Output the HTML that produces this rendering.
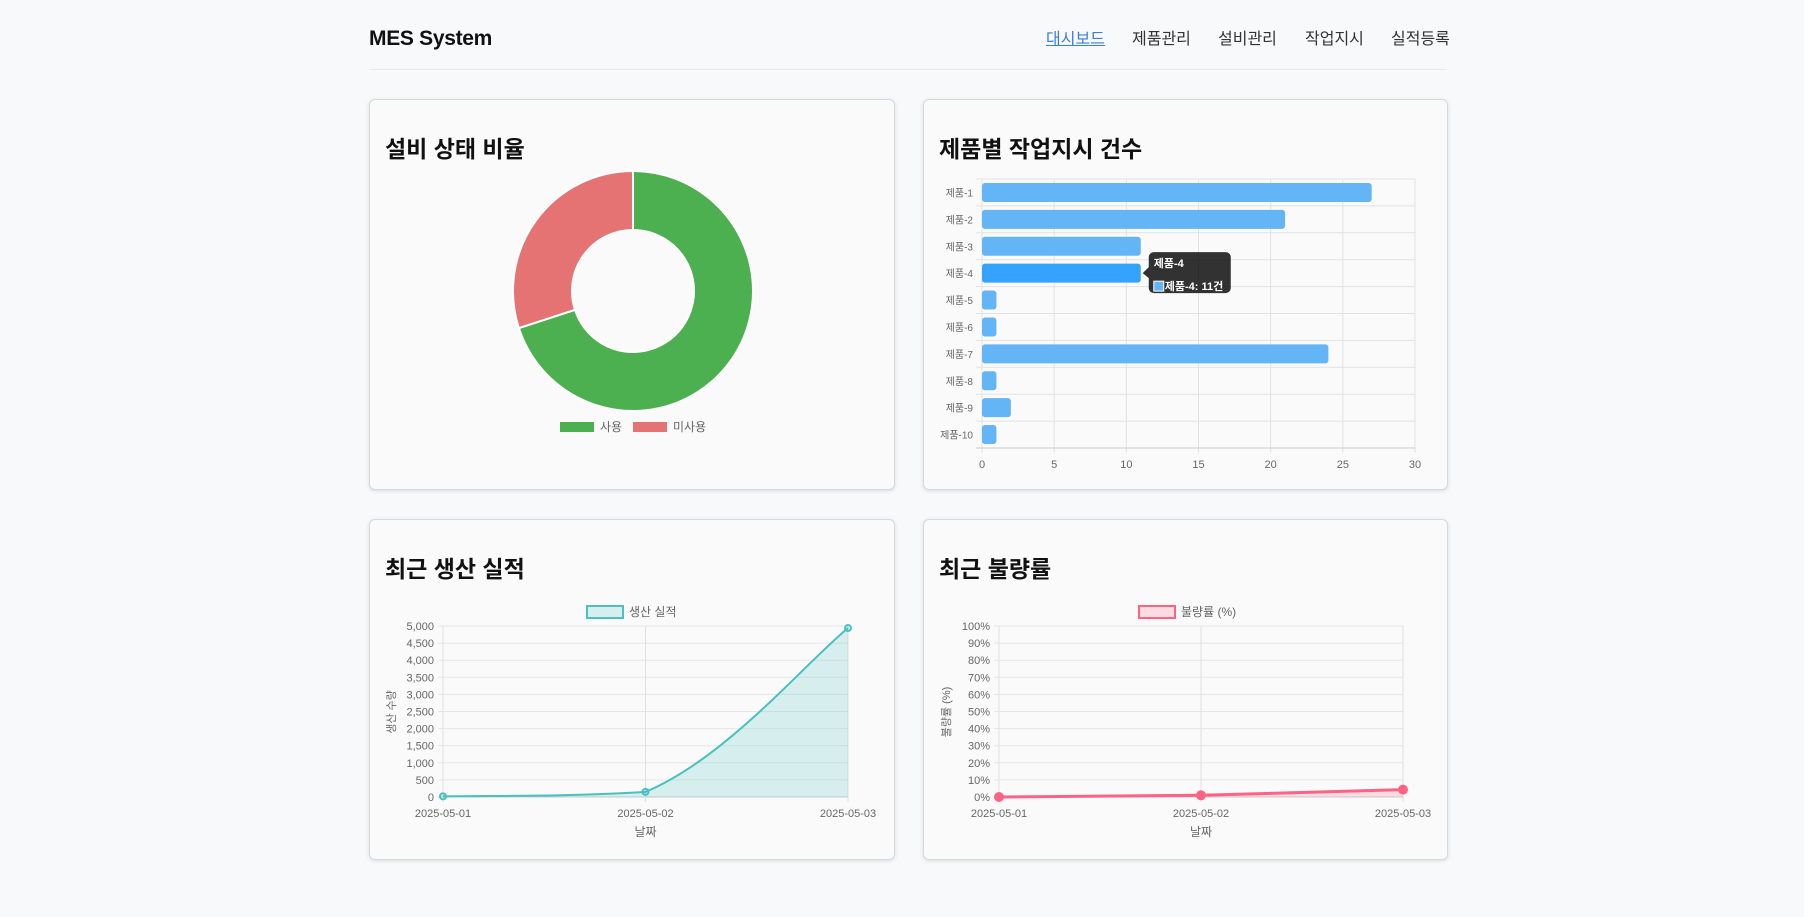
<!DOCTYPE html>
<html lang="ko"><head><meta charset="utf-8">
<style>
*{box-sizing:border-box;margin:0;padding:0}
body{width:1804px;height:917px;background:#f8f9fa;font-family:"Liberation Sans","Noto Sans CJK KR",sans-serif;position:relative;overflow:hidden}
.abs{position:absolute}
.brand{left:369px;top:27px;font-size:21px;font-weight:bold;color:#111;letter-spacing:-0.3px}
.nav a{position:absolute;top:25px;font-size:16px;color:#333;text-decoration:none;white-space:nowrap}
.hr{left:369px;top:69px;width:1078px;height:1px;background:#e6e8ea}
.card{background:#fafafa;border:1px solid #d9d9d9;border-radius:6px;box-shadow:0 1px 4px rgba(0,0,0,.12)}
.title{font-size:23px;font-weight:bold;color:#111;white-space:nowrap}
svg text{font-family:"Liberation Sans","Noto Sans CJK KR",sans-serif}
</style></head><body>
<div class="abs brand">MES System</div>
<div class="nav">
<a style="left:1046px;color:#3b7ddd;text-decoration:underline" href="#">대시보드</a>
<a style="left:1132px" href="#">제품관리</a>
<a style="left:1218px" href="#">설비관리</a>
<a style="left:1305px" href="#">작업지시</a>
<a style="left:1391px" href="#">실적등록</a>
</div>
<div class="abs hr"></div>
<div class="abs card" style="left:369px;top:99px;width:526px;height:391px"></div>
<div class="abs card" style="left:923px;top:99px;width:525px;height:391px"></div>
<div class="abs card" style="left:369px;top:519px;width:526px;height:341px"></div>
<div class="abs card" style="left:923px;top:519px;width:525px;height:341px"></div>
<div class="abs title" style="left:385px;top:130px">설비 상태 비율</div>
<div class="abs title" style="left:939px;top:130px">제품별 작업지시 건수</div>
<div class="abs title" style="left:385px;top:550px">최근 생산 실적</div>
<div class="abs title" style="left:939px;top:550px">최근 불량률</div>
<svg id="s" class="abs" style="left:0;top:0" width="1804" height="917"></svg>
<script>
// Donut data
const donutLabels=['사용','미사용'];
const donutValues=[7,3];
const donutColors=['#4caf50','#e57373'];
// Bar data
const barCategories=['제품-1','제품-2','제품-3','제품-4','제품-5','제품-6','제품-7','제품-8','제품-9','제품-10'];
const barValues=[27,21,11,11,1,1,24,1,2,1];
const barTicks=[0,5,10,15,20,25,30];
// Production line
const prodDates=['2025-05-01','2025-05-02','2025-05-03'];
const prodValues=[20,150,4940];
const prodTicks=[0,500,1000,1500,2000,2500,3000,3500,4000,4500,5000];
// Defect line
const defDates=['2025-05-01','2025-05-02','2025-05-03'];
const defValues=[0,1,4.3];
const defTicks=[0,10,20,30,40,50,60,70,80,90,100];

const S=document.getElementById('s');const NS='http://www.w3.org/2000/svg';
function mk(t,a,txt){const e=document.createElementNS(NS,t);for(const k in a)e.setAttribute(k,a[k]);if(txt!==undefined)e.textContent=txt;S.appendChild(e);return e;}
function fmt(n){return n.toLocaleString('en-US');}

// Donut
(function(){
 const cx=633,cy=291,R=120,r=61;const tot=donutValues.reduce((a,b)=>a+b,0);let a0=0;
 donutValues.forEach((v,i)=>{const a1=a0+v/tot*2*Math.PI;
  const p=(ang,rad)=>[cx+rad*Math.sin(ang),cy-rad*Math.cos(ang)];
  const [x0,y0]=p(a0,R),[x1,y1]=p(a1,R),[x2,y2]=p(a1,r),[x3,y3]=p(a0,r);const lg=(a1-a0)>Math.PI?1:0;
  const e=mk('path',{d:`M${x0},${y0}A${R},${R} 0 ${lg} 1 ${x1},${y1}L${x2},${y2}A${r},${r} 0 ${lg} 0 ${x3},${y3}Z`,fill:donutColors[i],stroke:'#fff','stroke-width':2});
  
  
  a0=a1;});
 const lx=[560,633];
 donutLabels.forEach((l,i)=>{
  const b=mk('rect',{x:lx[i],y:422,width:34,height:10,fill:donutColors[i]});
  
  
  const t=mk('text',{x:lx[i]+40,y:431,'font-size':12,fill:'#666'},l);
  
  
 });
})();

// Bar chart
(function(){
 const x0=982,x1=1415,y0=179,y1=448,max=30;const X=v=>x0+v/max*(x1-x0);const rh=(y1-y0)/barCategories.length;
 barTicks.forEach(t=>{const g=mk('line',{x1:X(t),x2:X(t),y1:y0,y2:y1+5,stroke:'#e2e2e2'});
  
  
  const l=mk('text',{x:X(t),y:468,'font-size':11,fill:'#666','text-anchor':'middle'},t);
  
  });
 for(let i=0;i<=barCategories.length;i++){const g=mk('line',{x1:x0-6,x2:x1,y1:y0+i*rh,y2:y0+i*rh,stroke:i==barCategories.length?'#ccc':'#e2e2e2'});
  
  }
 barCategories.forEach((c,i)=>{const cy=y0+(i+0.5)*rh;
  const b=mk('rect',{x:x0,y:cy-9.5,width:X(barValues[i])-x0,height:19,rx:3,fill:i==3?'#36a2ff':'#64b5f6'});
  
  
  const t=mk('text',{x:973,y:cy+4,'font-size':10,fill:'#666','text-anchor':'end'},c);
  
  });
 const tx=X(barValues[3]),ty=y0+3.5*rh;
 const tt=mk('path',{d:`M${tx+2},${ty}l6,-6v-10a5,5 0 0 1 5,-5h72a5,5 0 0 1 5,5v31a5,5 0 0 1 -5,5h-72a5,5 0 0 1 -5,-5v-10z`,fill:'rgba(0,0,0,0.8)'});
 
 
 mk('text',{x:tx+13,y:ty-6,'font-size':11,'font-weight':'bold',fill:'#fff'},barCategories[3]);
 mk('rect',{x:tx+13,y:ty+8,width:10,height:10,fill:'#64b5f6',stroke:'#fff'});
 mk('text',{x:tx+24,y:ty+17,'font-size':11,'font-weight':'bold',fill:'#fff'},barCategories[3]+': '+barValues[3]+'건');
})();

function lineChart(o){
 const {x0,x1,y0,y1,max,ticks,dates,vals,color,fill,tickFmt,legend,lx,ytitle,name,tension,rad}=o;
 const X=i=>x0+i/(dates.length-1)*(x1-x0);const Y=v=>y1-v/max*(y1-y0);
 ticks.forEach(t=>{const g=mk('line',{x1:x0-5,x2:x1,y1:Y(t),y2:Y(t),stroke:t==0?'#ccc':'#e6e6e6'});
  
  
  const l=mk('text',{x:x0-9,y:Y(t)+4,'font-size':11,fill:'#666','text-anchor':'end'},tickFmt(t));
  
  });
 dates.forEach((d,i)=>{const g=mk('line',{x1:X(i),x2:X(i),y1:y0,y2:y1+5,stroke:'#e0e0e0'});
  
  
  const l=mk('text',{x:X(i),y:817,'font-size':11,fill:'#666','text-anchor':'middle'},d);
  
  });
 const pts=vals.map((v,i)=>[X(i),Y(v)]);
 let d=`M${pts[0][0]},${pts[0][1]}`;
 for(let i=0;i<pts.length-1;i++){const p0=pts[i-1]||pts[i],p1=pts[i],p2=pts[i+1],p3=pts[i+2]||p2;
  const c1=[p1[0]+(p2[0]-p0[0])*tension/2,Math.min(y1,p1[1]+(p2[1]-p0[1])*tension/2)];
  const c2=[p2[0]-(p3[0]-p1[0])*tension/2,Math.min(y1,p2[1]-(p3[1]-p1[1])*tension/2)];
  d+=`C${c1[0]},${c1[1]} ${c2[0]},${c2[1]} ${p2[0]},${p2[1]}`;}
 const a=mk('path',{d:d+`L${x1},${y1}L${x0},${y1}Z`,fill:fill});
 
 
 const l=mk('path',{d:d,fill:'none',stroke:color,'stroke-width':o.sw});
 
 
 pts.forEach(p=>{const c=mk('circle',{cx:p[0],cy:p[1],r:rad,fill:o.pfill,stroke:color,'stroke-width':2});
  
  });
 const lb=mk('rect',{x:lx,y:606,width:36,height:12,fill:fill,stroke:color,'stroke-width':2});
 
 
 const lt=mk('text',{x:lx+42,y:616,'font-size':12,fill:'#666'},legend);
 
 
 const xt=mk('text',{x:(x0+x1)/2,y:836,'font-size':12,fill:'#666','text-anchor':'middle'},'날짜');
 
 
 const yt=mk('text',{x:0,y:0,'font-size':11,fill:'#666','text-anchor':'middle',transform:`translate(${o.ytx},712) rotate(-90)`},ytitle);
 
 
}
lineChart({name:'production',x0:443,x1:848,y0:626,y1:797,max:5000,ticks:prodTicks,dates:prodDates,vals:prodValues,color:'#4bc0c0',fill:'rgba(75,192,192,0.2)',pfill:'rgba(75,192,192,0.2)',tickFmt:fmt,legend:'생산 실적',lx:587,ytitle:'생산 수량',ytx:395,tension:0.4,rad:3,sw:2});
lineChart({name:'defect',x0:999,x1:1403,y0:626,y1:797,max:100,ticks:defTicks,dates:defDates,vals:defValues,color:'#ff6384',fill:'rgba(255,99,132,0.2)',pfill:'#ff6384',tickFmt:t=>t+'%',legend:'불량률 (%)',lx:1139,ytitle:'불량률 (%)',ytx:950,tension:0,rad:4,sw:3});
</script>
</body></html>
